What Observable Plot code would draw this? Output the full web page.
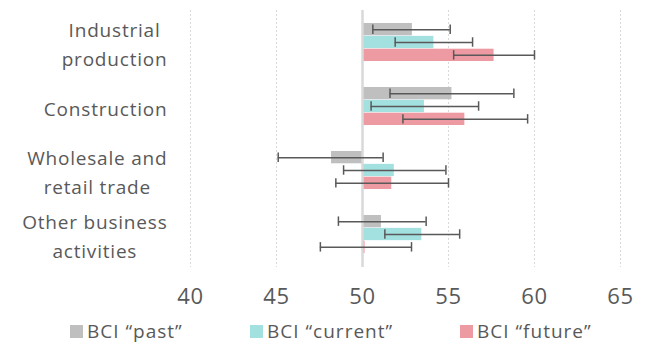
<!DOCTYPE html>
<html>
<head>
<meta charset="utf-8">
<script src="https://cdn.jsdelivr.net/npm/d3@7"></script>
<script src="https://cdn.jsdelivr.net/npm/@observablehq/plot@0.6"></script>
<style>
  html, body { margin: 0; padding: 0; background: #fff; }
  body { font-family: "Open Sans", sans-serif; color: #595959; width: 652px; height: 344px; overflow: hidden; }
  #legend { display: flex; align-items: center; padding-left: 70px; margin-top: 8px; font-size: 19px; letter-spacing: 1px; }
  .item { display: flex; align-items: center; }
  .item:nth-child(1) { width: 180px; }
  .item:nth-child(2) { width: 210px; }
  .sw { width: 13px; height: 13px; margin-right: 4px; flex: none; }
</style>
</head>
<body>
<div id="chart"></div>
<div id="legend"></div>
<script>
// ---- data ----
const categories = ["Industrial production", "Construction", "Wholesale and retail trade", "Other business activities"];
const categoryLabels = ["Industrial\nproduction", "Construction", "Wholesale and\nretail trade", "Other business\nactivities"];
const seriesNames = ["BCI \u201cpast\u201d", "BCI \u201ccurrent\u201d", "BCI \u201cfuture\u201d"];
const pastValues    = [52.9, 55.2, 48.2, 51.1];
const pastLow       = [50.6, 51.6, 45.1, 48.6];
const pastHigh      = [55.1, 58.8, 51.2, 53.7];
const currentValues = [54.15, 53.6, 51.85, 53.45];
const currentLow    = [51.9, 50.5, 48.9, 51.3];
const currentHigh   = [56.4, 56.75, 54.85, 55.65];
const futureValues  = [57.65, 55.95, 51.7, 50.15];
const futureLow     = [55.3, 52.35, 48.45, 47.55];
const futureHigh    = [60.0, 59.6, 55.0, 52.85];
const xTicks = [40, 45, 50, 55, 60, 65];
const baseline = 50;
const colors = ["#bfbfbf", "#a3e0e0", "#ee9aa2"];

// ---- build tables ----
const seriesData = [
  [pastValues, pastLow, pastHigh],
  [currentValues, currentLow, currentHigh],
  [futureValues, futureLow, futureHigh]
].map(([v, lo, hi], s) => categories.map((c, i) => ({category: c, series: seriesNames[s], value: v[i], low: lo[i], high: hi[i]})));

// ---- layout ----
const width = 652, height = 310;
const marginTop = 10, marginBottom = 43, marginLeft = 190, marginRight = 32;
const paddingInner = 0.4, paddingOuter = 0.2;
const step = (height - marginTop - marginBottom) / (categories.length - paddingInner + 2 * paddingOuter);
const bandwidth = step * (1 - paddingInner);
const slot = bandwidth / 3;
const capLen = 10;

const marks = [
  Plot.ruleX(xTicks.filter(t => t !== baseline), {stroke: "#d9d9d9", strokeDasharray: "2,2", strokeWidth: 1})
];
seriesData.forEach((data, s) => {
  marks.push(Plot.barX(data, {
    y: "category", x1: () => baseline, x2: "value", fill: colors[s],
    insetTop: s * slot, insetBottom: (2 - s) * slot
  }));
});
marks.push(Plot.ruleX([baseline], {stroke: "#d9d9d9", strokeWidth: 2.5}));
seriesData.forEach((data, s) => {
  const dy = (s - 1) * slot;
  const capTop = s * slot + (slot - capLen) / 2;
  const capBottom = bandwidth - capTop - capLen;
  marks.push(Plot.ruleY(data, {y: "category", x1: "low", x2: "high", dy, stroke: "#595959", strokeWidth: 1.5}));
  marks.push(Plot.tickX(data, {y: "category", x: "low", insetTop: capTop, insetBottom: capBottom, stroke: "#595959", strokeWidth: 1.5}));
  marks.push(Plot.tickX(data, {y: "category", x: "high", insetTop: capTop, insetBottom: capBottom, stroke: "#595959", strokeWidth: 1.5}));
});
marks.push(Plot.axisX({ticks: xTicks, tickSize: 0, tickPadding: 21, fontSize: 22, label: null, tickFormat: d => String(d)}));
marks.push(Plot.axisY({
  tickSize: 0, tickPadding: 23, fontSize: 19, lineHeight: 1.5, label: null,
  tickFormat: d => categoryLabels[categories.indexOf(d)]
}));

const chart = Plot.plot({
  width, height, marginTop, marginBottom, marginLeft, marginRight,
  style: {fontFamily: "Open Sans, sans-serif", color: "#595959", background: "#fff", letterSpacing: "0.8px"},
  x: {domain: [40, 65], axis: null},
  y: {domain: categories, paddingInner, paddingOuter, axis: null},
  marks
});
document.getElementById("chart").appendChild(chart);

// center the lines of each multi-line category label within its right-aligned block
const flatLabels = new Set(categoryLabels.map(l => l.replace("\n", "")));
chart.querySelectorAll("text").forEach(t => {
  if (!flatLabels.has(t.textContent)) return;
  const w = t.getBBox().width;
  t.setAttribute("text-anchor", "middle");
  t.style.textAnchor = "middle";
  t.querySelectorAll("tspan").forEach(ts => { ts.setAttribute("text-anchor", "middle"); ts.style.textAnchor = "middle"; });
  const tr = t.getAttribute("transform") || "";
  t.setAttribute("transform", tr + ` translate(${-w / 2},0)`);
});

const legend = document.getElementById("legend");
seriesNames.forEach((name, s) => {
  const item = document.createElement("div");
  item.className = "item";
  const sw = document.createElement("span");
  sw.className = "sw";
  sw.style.background = colors[s];
  const label = document.createElement("span");
  label.textContent = name;
  item.appendChild(sw);
  item.appendChild(label);
  legend.appendChild(item);
});
</script>
</body>
</html>
